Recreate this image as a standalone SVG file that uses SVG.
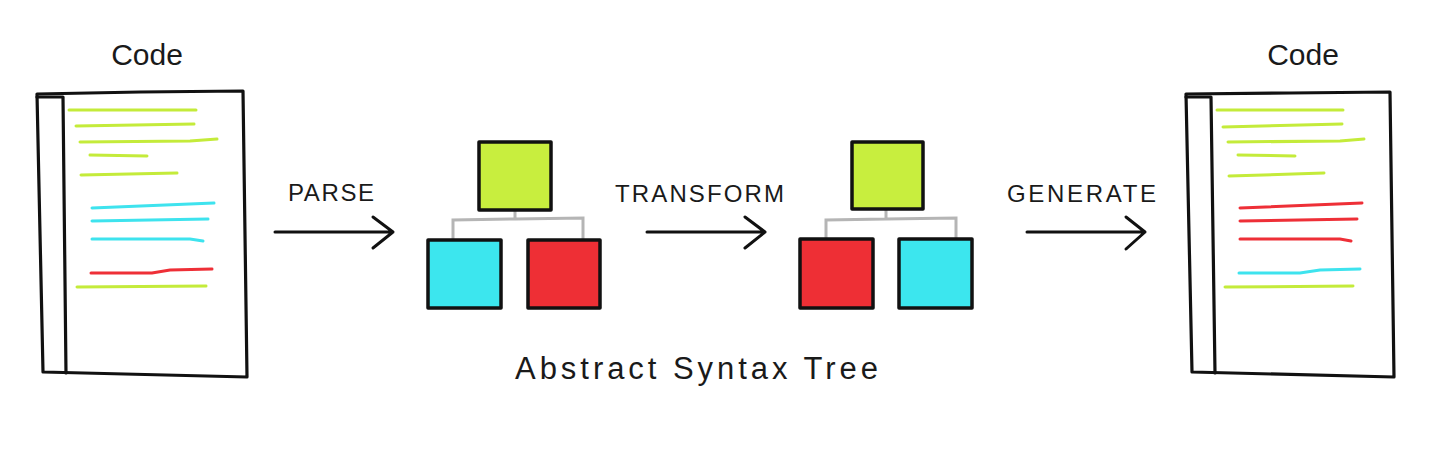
<svg xmlns="http://www.w3.org/2000/svg" width="1440" height="452" viewBox="0 0 1440 452">
<style>
.bg{fill:#ffffff}
.frame{fill:none;stroke:#111;stroke-width:3.2;stroke-linecap:round;stroke-linejoin:round}
.ln{fill:none;stroke-width:3;stroke-linecap:round}
.g{stroke:#c4eb3a}
.c{stroke:#3ee3ee}
.r{stroke:#ee2f37}
.box{stroke:#111;stroke-width:3.5;stroke-linejoin:round}
.fg{fill:#c8ee3e}
.fc{fill:#3ce6ee}
.fr{fill:#ee2f35}
.link{fill:none;stroke:#b5b5b5;stroke-width:3;stroke-linecap:round}
.arrow{fill:none;stroke:#111;stroke-width:3;stroke-linecap:round;stroke-linejoin:round}
.t{font-family:"Liberation Sans",Arial,sans-serif;fill:#1a1a1a}
.title{font-size:30px}
.verb{font-size:24px;letter-spacing:1px}
</style>
<rect class="bg" x="0" y="0" width="1440" height="452"/>

<g id="code-in">
  <path class="frame" d="M37,94 L140,92 L243,91 L247,377 L43,372 Z"/>
  <path class="frame" d="M37,97 L63,97 L66,373"/>
  <path class="ln g" d="M69,110 L196,110"/>
  <path class="ln g" d="M76,126 L194,124"/>
  <path class="ln g" d="M80,142 L190,141 L217,139"/>
  <path class="ln g" d="M90,155 L147,156"/>
  <path class="ln g" d="M81,175 L177,173"/>
  <path class="ln c" d="M92,208 L214,203"/>
  <path class="ln c" d="M92,221 L208,219"/>
  <path class="ln c" d="M92,239 L190,239 L203,241"/>
  <path class="ln r" d="M91,273 L152,273 L170,270 L212,269"/>
  <path class="ln g" d="M77,287 L206,286"/>
  <text class="t title" x="147" y="65" text-anchor="middle">Code</text>
</g>

<g id="ast-1">
  <path class="link" d="M515,210 L515,219 M453,240 L453,220 L515,219 L583,218 L583,240"/>
  <rect class="box fg" x="479" y="142" width="72" height="68"/>
  <rect class="box fc" x="428" y="240" width="73" height="68"/>
  <rect class="box fr" x="528" y="240" width="72" height="68"/>
</g>

<g id="ast-2">
  <path class="link" d="M886,209 L886,219 M826,239 L826,220 L886,219 L956,218 L956,239"/>
  <rect class="box fg" x="852" y="142" width="71" height="67"/>
  <rect class="box fr" x="800" y="239" width="73" height="69"/>
  <rect class="box fc" x="899" y="239" width="73" height="69"/>
</g>

<g id="ast-label">
  <text class="t" x="515" y="379" font-size="31" textLength="363" lengthAdjust="spacing">Abstract Syntax Tree</text>
</g>

<g id="code-out">
  <path class="frame" d="M1186,94 L1290,93 L1390,92 L1394,377 L1192,372 Z"/>
  <path class="frame" d="M1186,97 L1211,97 L1215,373"/>
  <path class="ln g" d="M1217,110 L1343,110"/>
  <path class="ln g" d="M1223,127 L1342,124"/>
  <path class="ln g" d="M1228,142 L1340,141 L1364,139"/>
  <path class="ln g" d="M1238,155 L1295,156"/>
  <path class="ln g" d="M1229,176 L1324,173"/>
  <path class="ln r" d="M1240,208 L1362,203"/>
  <path class="ln r" d="M1240,221 L1357,219"/>
  <path class="ln r" d="M1240,239 L1340,239 L1351,241"/>
  <path class="ln c" d="M1239,273 L1300,273 L1320,270 L1360,269"/>
  <path class="ln g" d="M1225,287 L1353,286"/>
  <text class="t title" x="1303" y="65" text-anchor="middle">Code</text>
</g>

<g id="connectors">
  <g id="parse">
    <path class="arrow" d="M275,232 L393,232 M373,217 L393,232 L373,248"/>
    <text class="t verb" x="288" y="201" textLength="87" lengthAdjust="spacing">PARSE</text>
  </g>
  <g id="transform">
    <path class="arrow" d="M647,232 L765,232 M745,217 L765,232 L745,248"/>
    <text class="t verb" x="615" y="202" textLength="170" lengthAdjust="spacing">TRANSFORM</text>
  </g>
  <g id="generate">
    <path class="arrow" d="M1027,232 L1145,232 M1126,217 L1145,232 L1126,249"/>
    <text class="t verb" x="1007" y="202" textLength="150" lengthAdjust="spacing">GENERATE</text>
  </g>
</g>
</svg>
